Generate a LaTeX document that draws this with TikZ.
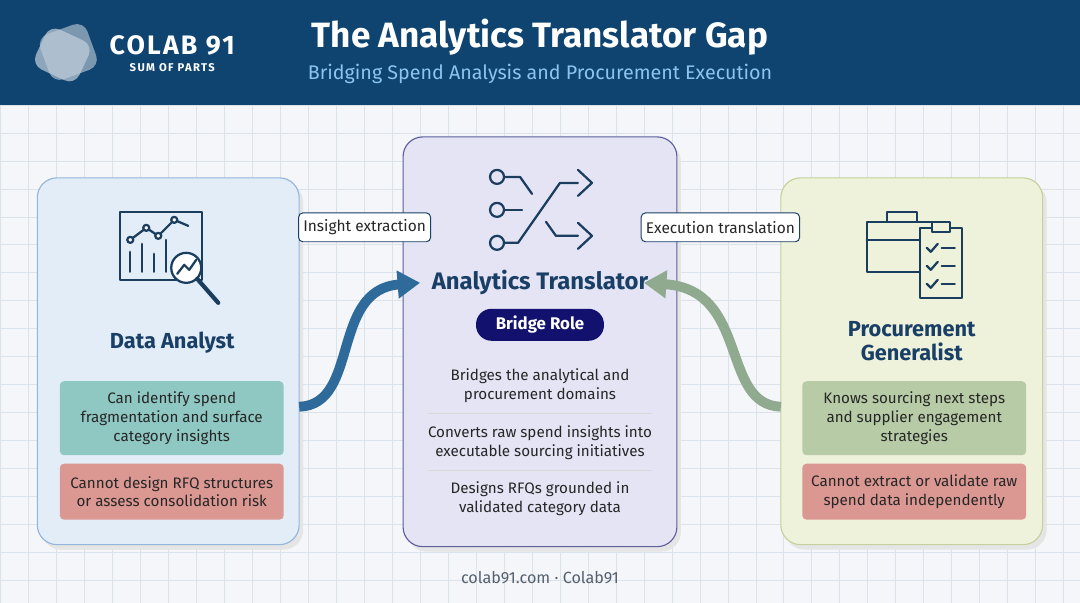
\documentclass[tikz,border=0pt]{standalone}
\usepackage{fontspec}
\setmainfont{Fira Sans}
\usepackage{tikz}
\usetikzlibrary{arrows.meta, positioning, calc}
\definecolor{navyband}{HTML}{0F4470}
\definecolor{titleblue}{HTML}{1A3F66}
\definecolor{subblue}{HTML}{8CC4F0}
\definecolor{gridline}{HTML}{DCE2EA}
\definecolor{pagebg}{HTML}{F4F6F9}
\definecolor{leftfill}{HTML}{E2EDF8}
\definecolor{leftdraw}{HTML}{93B6DB}
\definecolor{midfill}{HTML}{E4E4F5}
\definecolor{middraw}{HTML}{5E5E9E}
\definecolor{rightfill}{HTML}{EEF2DB}
\definecolor{rightdraw}{HTML}{C6D09C}
\definecolor{tealbox}{HTML}{8FC7C2}
\definecolor{sagebox}{HTML}{B7CBA6}
\definecolor{redbox}{HTML}{DB9893}
\definecolor{pillnavy}{HTML}{12126E}
\definecolor{arrowblue}{HTML}{2E6A9A}
\definecolor{arrowsage}{HTML}{8FAA8E}
\definecolor{footgray}{HTML}{55606E}
\definecolor{iconblue}{HTML}{1B3D5E}

\begin{document}
\begin{tikzpicture}[x=0.025cm, y=-0.025cm,
    card/.style={rectangle, rounded corners=14pt, line width=0.8pt, draw=#1},
    fact/.style={rectangle, rounded corners=3pt, fill=#1, minimum width=5.6cm, font=\fontsize{10.8}{13.5}\selectfont, align=center, text=black!85},
    tag/.style={rectangle, rounded corners=3pt, draw=titleblue, fill=white, line width=0.7pt, font=\fontsize{11}{13}\selectfont, text=black!85, minimum height=0.72cm},
    role/.style={font=\fontsize{15.5}{17}\selectfont\bfseries, text=titleblue, align=center},
    point/.style={font=\fontsize{10.8}{13.5}\selectfont, align=center, text=black!85},
    bigarrow/.style={line width=7pt, -{Triangle[length=16pt, width=19pt]}},
    icon/.style={draw=iconblue, line width=1.6pt, line cap=round, line join=round}
]

% Background and grid
\fill[pagebg] (0,0) rectangle (1080,603);
\foreach \gx in {0,28,...,1080} \draw[gridline, line width=0.5pt] (\gx,105) -- (\gx,603);
\foreach \gy in {105,133,...,603} \draw[gridline, line width=0.5pt] (0,\gy) -- (1080,\gy);
\useasboundingbox (0,0) rectangle (1080,603);

% Header
\fill[navyband] (0,0) rectangle (1080,105);
\fill[white!45!navyband, rounded corners=8pt, rotate around={20:(68,52)}] (43,28) rectangle (93,76);
\fill[white!75!navyband, opacity=0.7, rounded corners=8pt, rotate around={-25:(62,55)}] (38,33) rectangle (86,77);
\node[font=\fontsize{19}{21}\selectfont\bfseries\addfontfeature{LetterSpace=8}, text=white] (brand) at (172,45) {COLAB 91};
\node[font=\fontsize{8}{9}\selectfont\bfseries\addfontfeature{LetterSpace=12}, text=white] (motto) at (172,68) {SUM OF PARTS};
\node[font=\fontsize{25}{28}\selectfont\bfseries, text=white] (title) at (540,37) {The Analytics Translator Gap};
\node[font=\fontsize{14}{16}\selectfont, text=subblue] (subtitle) at (540,74) {Bridging Spend Analysis and Procurement Execution};

% Cards
\fill[black!10, rounded corners=14pt] (41,183) rectangle (303,550);
\fill[black!10, rounded corners=14pt] (407,142) rectangle (681,552);
\fill[black!10, rounded corners=14pt] (785,183) rectangle (1047,550);
\filldraw[card=leftdraw, fill=leftfill] (37,178) rectangle (299,545);
\filldraw[card=middraw, fill=midfill] (403,137) rectangle (677,547);
\filldraw[card=rightdraw, fill=rightfill] (781,178) rectangle (1043,545);
\coordinate (analyst) at (299,407);
\coordinate (generalist) at (781,407);
\coordinate (translatorW) at (420,283);
\coordinate (translatorE) at (644,283);

% Data analyst
\draw[icon] (120,212) rectangle (202,280);
\draw[icon] (130,272) -- (130,252) (142,272) -- (142,244) (154,272) -- (154,254) (166,272) -- (166,240);
\draw[icon] (130,240) -- (146,228) -- (158,236) -- (174,220) -- (188,226);
\foreach \p in {(130,240),(146,228),(158,236),(174,220)} \draw[icon, fill=white] \p circle (3);
\draw[icon, fill=white] (186,268) circle (15);
\draw[icon, line width=3pt] (197,279) -- (218,303);
\draw[icon] (177,274) -- (184,265) -- (189,270) -- (196,260);
\node[role] (analystname) at (172,343) {Data Analyst};
\node[fact=tealbox, minimum height=1.85cm] (analystcan) at (171.5,418.5) {Can identify spend\\fragmentation and surface\\category insights};
\node[fact=redbox, minimum height=1.4cm] (analystcannot) at (171.5,492) {Cannot design RFQ structures\\or assess consolidation risk};

% Analytics translator
\draw[icon] (497,177) circle (7) (497,210) circle (7) (497,243) circle (7);
\draw[icon] (504,177) -- (520,177) -- (532,194);
\draw[icon] (504,210) -- (522,210);
\draw[icon] (504,243) -- (518,243) -- (560,183) -- (578,183);
\draw[icon] (546,222) -- (556,236) -- (578,236);
\draw[icon] (578,170) -- (592,183) -- (578,196) (578,223) -- (592,236) -- (578,249);
\node[role, font=\fontsize{17}{19}\selectfont\bfseries] (translator) at (540,283) {Analytics Translator};
\node[rectangle, rounded corners=11pt, fill=pillnavy, text=white, font=\fontsize{12}{14}\selectfont\bfseries, minimum width=3.2cm, minimum height=0.8cm] (bridge) at (540,325) {Bridge Role};
\node[point] (bridges) at (540,386) {Bridges the analytical and\\procurement domains};
\node[point] (converts) at (540,443) {Converts raw spend insights into\\executable sourcing initiatives};
\node[point] (designs) at (540,499) {Designs RFQs grounded in\\validated category data};
\draw[black!15, line width=0.8pt] (428,414) -- (652,414) (428,471) -- (652,471);

% Procurement generalist
\draw[icon] (867,222) rectangle (937,272) (887,222) -- (887,212) -- (917,212) -- (917,222) (867,240) -- (937,240);
\draw[icon, fill=rightfill] (920,228) rectangle (962,298);
\draw[icon, fill=rightfill] (932,222) rectangle (950,232);
\foreach \y in {248,266,284} {
  \draw[icon] (927,\y) -- (931,\y+4) -- (938,\y-4);
  \draw[icon] (942,\y) -- (955,\y);
}
\node[role] (generalistname) at (912,341) {Procurement\\Generalist};
\node[fact=sagebox, minimum height=1.85cm] (generalistcan) at (914.5,418.5) {Knows sourcing next steps\\and supplier engagement\\strategies};
\node[fact=redbox, minimum height=1.4cm] (generalistcannot) at (914.5,492) {Cannot extract or validate raw\\spend data independently};

% Flow arrows
\draw[bigarrow, arrowblue] (analyst) .. controls (360,405) and (330,290) .. (translatorW);
\draw[bigarrow, arrowsage] (generalist) .. controls (720,405) and (750,290) .. (translatorE);
\node[tag] (insight) at (364.5,227.5) {Insight extraction};
\node[tag] (execution) at (720.5,227.5) {Execution translation};

% Footer
\node[font=\fontsize{11.5}{13}\selectfont, text=footgray] (footer) at (540,578) {colab91.com · Colab91};

\end{tikzpicture}
\end{document}
